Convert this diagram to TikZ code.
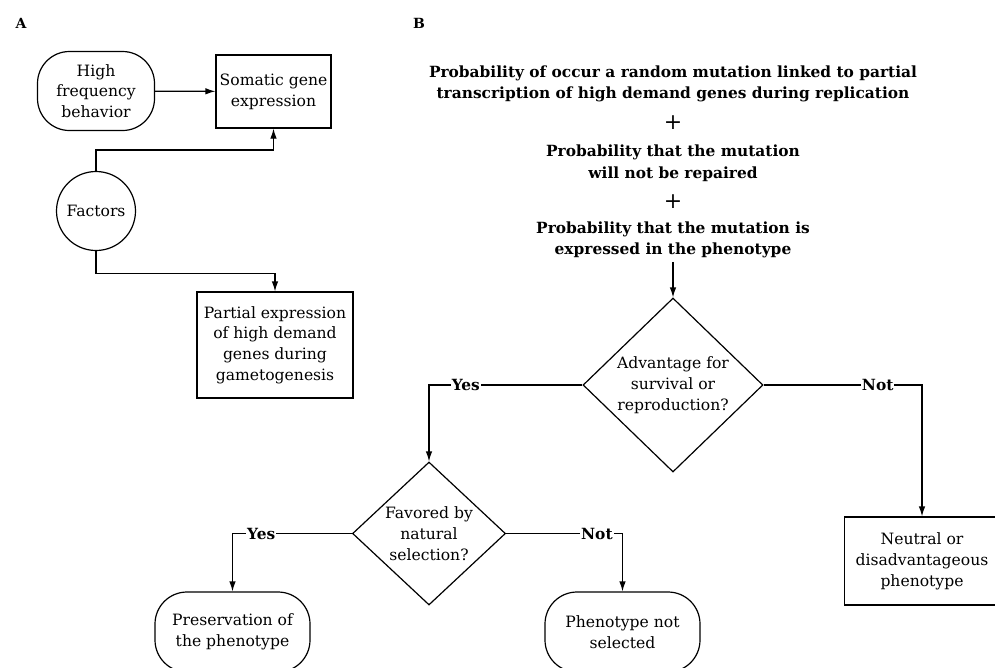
\documentclass[tikz,border=0pt]{standalone}
\usepackage{fontspec}
\setmainfont{DejaVu Serif}
\usepackage{tikz}
\usetikzlibrary{shapes.geometric, arrows.meta, positioning}
\tikzset{>={Latex[length=10pt,width=6.5pt]}}
\tikzset{
  base/.style={draw, line width=1.2pt, align=center, inner sep=2pt,
    font=\fontsize{15.6}{20.8}\selectfont},
  box/.style={base, rectangle},
  terminal/.style={base, rectangle, rounded corners=32pt},
  decision/.style={base, diamond, inner sep=0pt},
  title/.style={align=center, font=\fontsize{15.4}{21.5}\selectfont\bfseries},
  lab/.style={fill=white, inner sep=1pt, font=\fontsize{15.4}{16}\selectfont\bfseries},
  conn/.style={line width=1.2pt, ->},
}
\begin{document}
\begin{tikzpicture}[x=1pt, y=-1pt]
\useasboundingbox (0,0) rectangle (995,667);

% panel A
\node[font=\fontsize{14}{15}\selectfont\bfseries] (labA) at (21,23) {A};
\node[terminal, minimum width=117, minimum height=79] (freq) at (96,91) {High\\frequency\\behavior};
\node[box, minimum width=115, minimum height=73] (somatic) at (273.5,91.5) {Somatic gene\\expression};
\node[base, circle, minimum size=79, inner sep=0pt] (factors) at (96,211) {Factors};
\node[box, minimum width=156, minimum height=106] (partial) at (275,345) {Partial expression\\of high demand\\genes during\\gametogenesis};

\draw[conn] (freq) -- (somatic);
\draw[conn] (factors.north) -- ++(0,-21) -| (somatic.south);
\draw[conn] (factors.south) -- ++(0,22) -| (partial.north);

% panel B
\node[font=\fontsize{14}{15}\selectfont\bfseries] (labB) at (419,23) {B};
\node[title] (prob1) at (673,84) {Probability of occur a random mutation linked to partial\\transcription of high demand genes during replication};
\node[font=\fontsize{22}{22}\selectfont] (plus1) at (673,123) {+};
\node[title] (prob2) at (673,163) {Probability that the mutation\\will not be repaired};
\node[font=\fontsize{22}{22}\selectfont] (plus2) at (673,202) {+};
\node[title] (prob3) at (673,240) {Probability that the mutation is\\expressed in the phenotype};

\node[decision, minimum width=180, minimum height=174] (adv) at (673,385) {Advantage for\\survival or\\reproduction?};
\node[decision, minimum width=153, minimum height=143] (favored) at (429,533.5) {Favored by\\natural\\selection?};
\node[box, minimum width=155, minimum height=88] (neutral) at (922,561) {Neutral or\\disadvantageous\\phenotype};
\node[terminal, minimum width=155, minimum height=80] (preserve) at (232.5,632) {Preservation of\\the phenotype};
\node[terminal, minimum width=155, minimum height=80] (notsel) at (622.5,632) {Phenotype not\\selected};

\draw[conn] (prob3.south) -- (adv.north);
\draw[conn] (adv.west) -| node[lab, pos=0.38] {Yes} (favored.north);
\draw[conn] (adv.east) -| node[lab, pos=0.36] {Not} (neutral.north);
\draw[conn] (favored.west) -| node[lab, pos=0.38] {Yes} (preserve.north);
\draw[conn] (favored.east) -| node[lab, pos=0.39] {Not} (notsel.north);
\end{tikzpicture}
\end{document}
